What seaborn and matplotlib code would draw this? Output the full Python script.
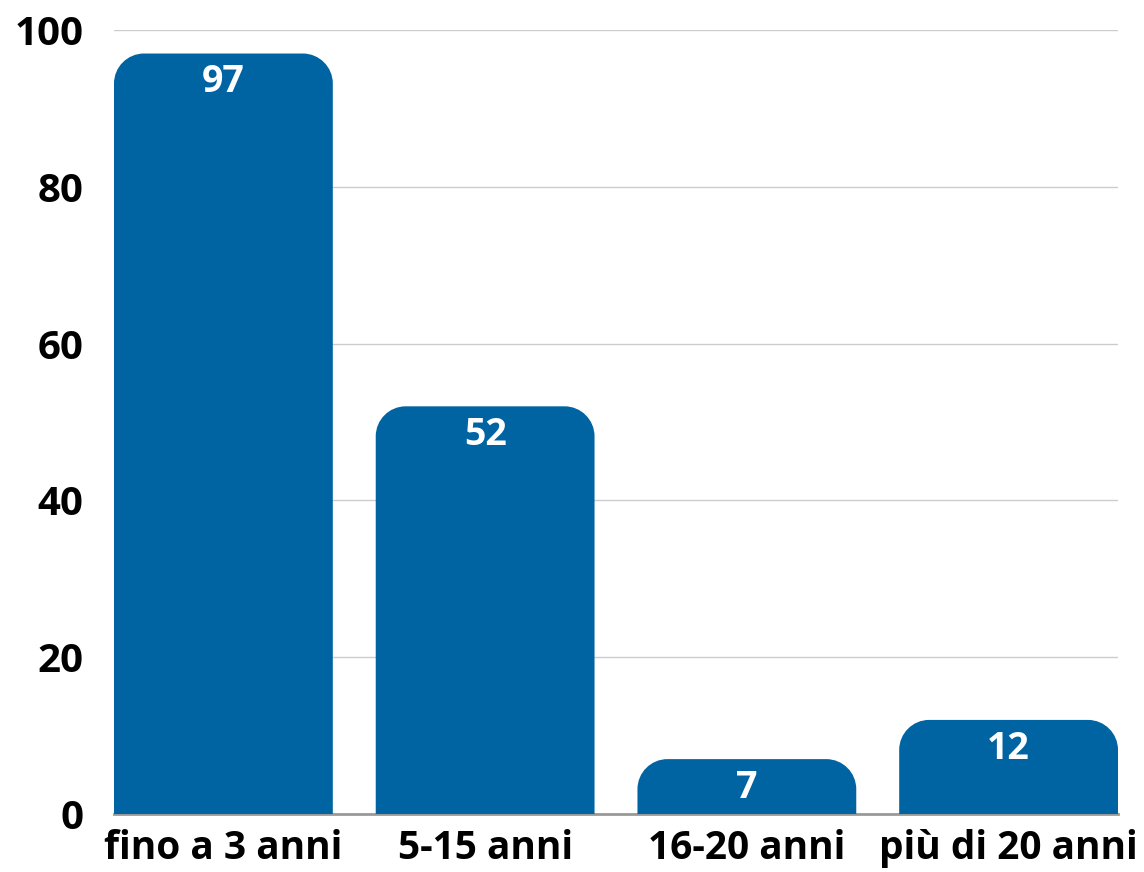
import matplotlib
matplotlib.use("Agg")
import matplotlib.pyplot as plt
import seaborn as sns
import pandas as pd
from matplotlib.path import Path
from matplotlib.patches import PathPatch

# data
categories = ['fino a 3 anni', '5-15 anni', '16-20 anni', 'più di 20 anni']
values = [97, 52, 7, 12]
yticks = [0, 20, 40, 60, 80, 100]

bar_color = '#0064A3'

df = pd.DataFrame({'cat': categories, 'val': values})

sns.set_style('white')
plt.rcParams['font.family'] = ['Open Sans', 'DejaVu Sans']
plt.rcParams['font.weight'] = 'bold'

fig = plt.figure(figsize=(11.44, 8.72), dpi=100)
ax = fig.add_axes([114 / 1144, 58 / 872, 1004 / 1144, 784 / 872])

sns.barplot(data=df, x='cat', y='val', color=bar_color, saturation=1,
            width=0.836, ax=ax, zorder=3)

ax.set_xlim(-0.418, 3.418)
ax.set_ylim(0, 100)
ax.set_yticks(yticks)
ax.yaxis.grid(True, color='#cccccc', linewidth=1, zorder=0)
ax.set_axisbelow(True)
for s in ['top', 'right', 'left']:
    ax.spines[s].set_visible(False)
ax.spines['bottom'].set_color('#999999')
ax.spines['bottom'].set_linewidth(2)
ax.spines['bottom'].set_zorder(2)
ax.set_xlabel('')
ax.set_ylabel('')
ax.tick_params(axis='x', length=0, pad=11, labelsize=28, labelcolor='black')
ax.tick_params(axis='y', length=0, pad=22, labelsize=29, labelcolor='black')
for lab in ax.get_xticklabels() + ax.get_yticklabels():
    lab.set_fontweight('bold')

# rounded top corners (radius in pixels)
fig.canvas.draw()
r_px = 30
px_x = ax.transData.transform((1, 0))[0] - ax.transData.transform((0, 0))[0]
px_y = ax.transData.transform((0, 1))[1] - ax.transData.transform((0, 0))[1]
rx, ry = r_px / px_x, r_px / px_y
k = 0.5523
for p in list(ax.patches):
    x0, y0 = p.get_x(), p.get_y()
    w, h = p.get_width(), p.get_height()
    x1, y1 = x0 + w, y0 + h
    ryy = min(ry, h)
    verts = [(x0, y0), (x0, y1 - ryy),
             (x0, y1 - ryy + k * ryy), (x0 + rx - k * rx, y1), (x0 + rx, y1),
             (x1 - rx, y1),
             (x1 - rx + k * rx, y1), (x1, y1 - ryy + k * ryy), (x1, y1 - ryy),
             (x1, y0), (x0, y0)]
    codes = [Path.MOVETO, Path.LINETO,
             Path.CURVE4, Path.CURVE4, Path.CURVE4,
             Path.LINETO,
             Path.CURVE4, Path.CURVE4, Path.CURVE4,
             Path.LINETO, Path.CLOSEPOLY]
    ax.add_patch(PathPatch(Path(verts, codes), facecolor=bar_color,
                           edgecolor='none', zorder=3))
    p.remove()

for i, v in enumerate(values):
    ax.annotate(str(v), (i, v), xytext=(0, -7), textcoords='offset points',
                ha='center', va='top', color='white', fontsize=27,
                fontweight='bold', zorder=4)

fig.savefig('out.png', dpi=100)
